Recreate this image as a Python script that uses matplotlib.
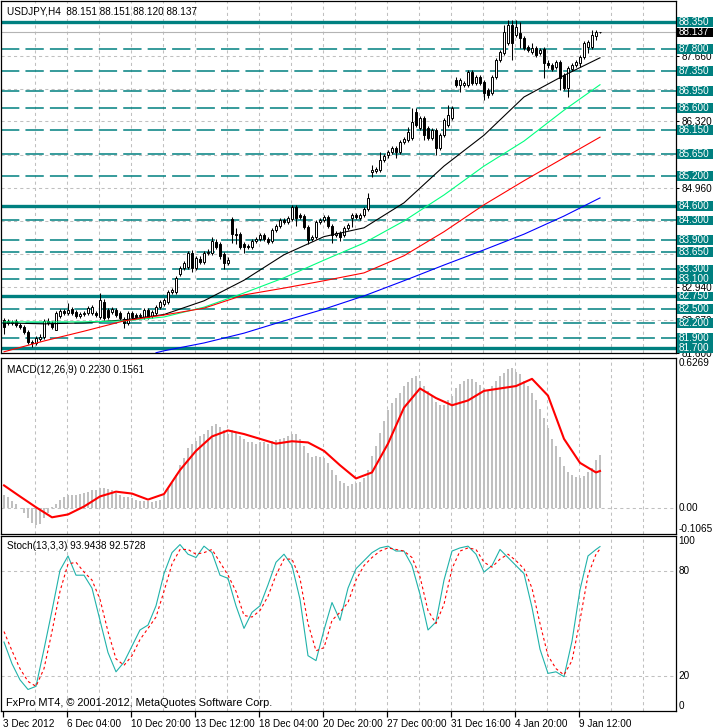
import numpy as np
import matplotlib
matplotlib.use('Agg')
import matplotlib.pyplot as plt
from matplotlib.patches import Rectangle

plt.rcParams['font.family'] = ['Liberation Sans', 'DejaVu Sans']
plt.rcParams['font.size'] = 7.2

# ========================
# USDJPY H4 candles
# ========================
opens = [
    82.27, 82.25, 82.21, 82.25, 82.17, 82.13, 82.02, 81.82, 81.80, 81.88,
    81.92, 82.25, 82.21, 82.06, 82.35, 82.45, 82.41, 82.49, 82.43, 82.35,
    82.39, 82.41, 82.41, 82.41, 82.33, 82.64, 82.47, 82.43, 82.47, 82.41,
    82.29, 82.21, 82.41, 82.37, 82.35, 82.33, 82.47, 82.35, 82.41, 82.53,
    82.60, 82.64, 82.84, 82.84, 83.21, 83.33, 83.35, 83.64, 83.33, 83.51,
    83.45, 83.64, 83.64, 83.86, 83.82, 83.62, 83.43, 84.33, 84.02, 84.02,
    83.82, 83.78, 83.76, 83.88, 83.92, 84.00, 83.92, 83.88, 84.10, 84.18,
    84.31, 84.27, 84.33, 84.57, 84.41, 84.39, 84.16, 83.92, 83.96, 84.27,
    84.31, 84.37, 84.18, 84.00, 84.04, 84.00, 84.14, 84.35, 84.41, 84.35,
    84.41, 84.53, 85.29, 85.31, 85.33, 85.53, 85.63, 85.70, 85.78, 85.70,
    85.90, 85.94, 85.98, 86.51, 86.19, 86.39, 86.19, 85.98, 86.15, 85.78,
    86.04, 86.25, 86.39, 87.17, 87.07, 87.07, 87.07, 87.33, 87.11, 87.23,
    87.13, 86.96, 86.90, 87.23, 87.58, 87.72, 87.92, 88.29, 88.08, 88.13,
    88.02, 87.84, 87.74, 87.82, 87.72, 87.80, 87.51, 87.47, 87.43, 87.54,
    87.27, 87.00, 87.39, 87.47, 87.51, 87.64, 87.84, 87.84, 88.06, 88.151]
highs = [
    82.31, 82.29, 82.27, 82.29, 82.21, 82.17, 82.06, 81.86, 81.94, 81.98,
    82.29, 82.31, 82.25, 82.45, 82.49, 82.49, 82.62, 82.53, 82.47, 82.43,
    82.45, 82.55, 82.57, 82.45, 82.82, 82.70, 82.51, 82.53, 82.51, 82.45,
    82.33, 82.45, 82.45, 82.41, 82.41, 82.51, 82.51, 82.47, 82.57, 82.68,
    82.72, 82.88, 82.92, 83.17, 83.37, 83.47, 83.68, 83.70, 83.57, 83.57,
    83.68, 83.72, 83.96, 83.92, 83.86, 83.66, 83.55, 84.37, 84.14, 84.06,
    83.86, 83.82, 83.92, 83.96, 84.04, 84.04, 83.96, 84.14, 84.22, 84.35,
    84.35, 84.39, 84.61, 84.61, 84.45, 84.43, 84.20, 84.00, 84.31, 84.35,
    84.41, 84.41, 84.22, 84.08, 84.08, 84.18, 84.24, 84.45, 84.45, 84.45,
    84.57, 84.86, 85.43, 85.39, 85.70, 85.65, 85.74, 85.82, 85.82, 85.94,
    86.00, 86.20, 86.60, 86.60, 86.43, 86.43, 86.23, 86.19, 86.19, 86.08,
    86.39, 86.66, 86.64, 87.23, 87.21, 87.15, 87.37, 87.37, 87.27, 87.27,
    87.17, 87.00, 87.27, 87.62, 87.78, 88.29, 88.39, 88.39, 88.39, 88.35,
    88.06, 87.88, 87.92, 87.86, 87.82, 87.84, 87.58, 87.51, 87.58, 87.58,
    87.31, 87.45, 87.51, 87.58, 87.68, 87.96, 87.98, 88.19, 88.19, 88.151]
lows = [
    81.98, 82.17, 82.17, 82.13, 82.08, 81.98, 81.78, 81.72, 81.76, 81.84,
    81.88, 82.17, 82.08, 82.06, 82.31, 82.37, 82.37, 82.37, 82.31, 82.31,
    82.35, 82.37, 82.37, 82.33, 82.29, 82.27, 82.29, 82.39, 82.33, 82.27,
    82.11, 82.17, 82.29, 82.29, 82.31, 82.29, 82.29, 82.31, 82.37, 82.49,
    82.55, 82.60, 82.80, 82.80, 83.17, 83.29, 83.31, 83.25, 83.29, 83.41,
    83.41, 83.60, 83.60, 83.72, 83.51, 83.31, 83.39, 83.84, 83.82, 83.72,
    83.64, 83.72, 83.72, 83.84, 83.88, 83.88, 83.82, 83.84, 84.06, 84.14,
    84.22, 84.22, 84.29, 84.18, 84.33, 84.12, 83.82, 83.88, 83.92, 84.22,
    84.27, 84.14, 83.84, 83.96, 83.88, 83.96, 84.10, 84.16, 84.33, 84.31,
    84.37, 84.49, 85.19, 85.27, 85.29, 85.49, 85.57, 85.66, 85.57, 85.66,
    85.86, 85.90, 85.94, 86.21, 86.15, 85.94, 85.94, 85.94, 85.63, 85.74,
    86.00, 86.21, 86.35, 87.03, 86.92, 87.03, 87.03, 87.07, 87.07, 87.07,
    86.76, 86.80, 86.86, 87.19, 87.54, 87.68, 87.88, 87.58, 88.04, 87.82,
    87.78, 87.74, 87.70, 87.64, 87.68, 87.21, 87.41, 87.35, 87.39, 86.96,
    86.96, 86.82, 87.35, 87.43, 87.43, 87.60, 87.72, 87.80, 87.98, 88.120]
closes = [
    82.13, 82.21, 82.23, 82.17, 82.13, 82.02, 81.82, 81.80, 81.90, 81.92,
    82.25, 82.21, 82.13, 82.41, 82.45, 82.41, 82.47, 82.41, 82.35, 82.39,
    82.41, 82.51, 82.53, 82.37, 82.68, 82.31, 82.33, 82.49, 82.37, 82.31,
    82.21, 82.41, 82.33, 82.33, 82.37, 82.47, 82.33, 82.43, 82.53, 82.64,
    82.68, 82.84, 82.88, 83.13, 83.33, 83.43, 83.64, 83.33, 83.53, 83.45,
    83.64, 83.66, 83.88, 83.76, 83.57, 83.43, 83.49, 84.02, 84.00, 83.76,
    83.76, 83.76, 83.88, 83.92, 84.00, 83.92, 83.86, 84.10, 84.18, 84.31,
    84.27, 84.35, 84.57, 84.35, 84.37, 84.16, 83.90, 83.96, 84.27, 84.31,
    84.37, 84.18, 84.00, 84.04, 83.96, 84.14, 84.20, 84.41, 84.37, 84.41,
    84.53, 84.76, 85.33, 85.35, 85.53, 85.61, 85.70, 85.78, 85.70, 85.90,
    85.96, 86.10, 86.31, 86.25, 86.39, 86.04, 85.98, 86.15, 85.78, 86.04,
    86.35, 86.45, 86.60, 87.07, 87.17, 87.11, 87.33, 87.11, 87.23, 87.11,
    86.90, 86.86, 87.23, 87.58, 87.74, 88.15, 88.29, 87.92, 88.25, 88.02,
    87.82, 87.78, 87.82, 87.68, 87.78, 87.51, 87.47, 87.39, 87.54, 87.21,
    87.00, 87.41, 87.47, 87.54, 87.64, 87.92, 87.94, 88.08, 88.15, 88.137]

# moving averages, read every 10 bars
ma_idx = [0, 10, 20, 30, 40, 50, 60, 70, 80, 90, 100, 110, 120, 130, 140, 149]
ma_black = [82.21, 82.19, 82.21, 82.27, 82.38, 82.66, 83.08, 83.60, 83.97, 84.15,
            84.66, 85.41, 86.04, 86.82, 87.26, 87.62]
ma_green = [82.23, 82.23, 82.23, 82.25, 82.33, 82.53, 82.82, 83.13, 83.49, 83.84,
            84.29, 84.82, 85.41, 85.92, 86.55, 87.07]
ma_red = [81.62, 81.84, 82.04, 82.25, 82.37, 82.51, 82.78, 82.92, 83.07, 83.23,
          83.58, 84.07, 84.62, 85.11, 85.58, 86.00]
blue_idx = [38, 40, 50, 60, 70, 80, 90, 100, 110, 120, 130, 140, 149]
ma_blue = [81.60, 81.64, 81.80, 82.00, 82.25, 82.49, 82.76, 83.07, 83.39, 83.70,
           84.02, 84.39, 84.76]

# horizontal levels (trend lines drawn by the user)
solid_levels = [88.35, 84.60, 82.75, 81.70]
dashed_levels = [87.80, 87.35, 86.95, 86.60, 86.15, 85.65, 85.20, 84.30, 83.90,
                 83.65, 83.30, 83.10, 82.50, 82.20, 81.90]
bid = 88.137
grid_levels = [87.66, 86.99, 86.32, 85.64, 84.96, 84.29, 83.61, 82.94, 82.27, 81.60]
# labels hidden behind the level boxes are left empty
grid_labels = ['87.660', '', '86.320', '', '84.960', '', '', '82.940', '82.270', '81.600']

# MACD(12,26,9)
macd_hist = [
    0.054, 0.046, 0.033, 0.020, 0.000, -0.020, -0.040, -0.060, -0.070, -0.065,
    -0.040, -0.017, 0.005, 0.020, 0.037, 0.046, 0.054, 0.058, 0.058, 0.062,
    0.066, 0.070, 0.075, 0.075, 0.087, 0.087, 0.080, 0.075, 0.066, 0.058,
    0.046, 0.046, 0.042, 0.037, 0.033, 0.030, 0.030, 0.025, 0.030, 0.037,
    0.058, 0.083, 0.108, 0.140, 0.180, 0.210, 0.250, 0.270, 0.280, 0.300,
    0.310, 0.325, 0.345, 0.350, 0.340, 0.325, 0.310, 0.325, 0.320, 0.300,
    0.290, 0.275, 0.275, 0.270, 0.275, 0.275, 0.270, 0.280, 0.285, 0.290,
    0.295, 0.300, 0.310, 0.310, 0.290, 0.260, 0.230, 0.215, 0.220, 0.215,
    0.210, 0.190, 0.160, 0.140, 0.115, 0.105, 0.095, 0.100, 0.105, 0.110,
    0.125, 0.160, 0.220, 0.260, 0.315, 0.365, 0.410, 0.440, 0.460, 0.480,
    0.510, 0.525, 0.545, 0.550, 0.530, 0.510, 0.490, 0.470, 0.445, 0.430,
    0.430, 0.450, 0.470, 0.500, 0.520, 0.530, 0.540, 0.540, 0.525, 0.515,
    0.500, 0.490, 0.510, 0.530, 0.550, 0.565, 0.580, 0.585, 0.570, 0.560,
    0.530, 0.510, 0.480, 0.450, 0.415, 0.375, 0.335, 0.290, 0.260, 0.215,
    0.175, 0.150, 0.140, 0.130, 0.125, 0.135, 0.150, 0.170, 0.200, 0.223]
macd_sig_idx = list(range(0, 149, 4)) + [149]
macd_sig = [0.096, 0.050, 0.005, -0.037, -0.025, 0.008, 0.050, 0.070, 0.062, 0.037,
            0.060, 0.160, 0.240, 0.300, 0.325, 0.310, 0.290, 0.270, 0.280, 0.275,
            0.240, 0.180, 0.125, 0.150, 0.270, 0.420, 0.500, 0.460, 0.430, 0.450,
            0.490, 0.500, 0.510, 0.540, 0.470, 0.290, 0.190, 0.150, 0.156]

# Stoch(13,3,3), read every 2 bars
sto_idx = list(range(0, 149, 2)) + [149]
sto_k = [39.4, 27.0, 17.8, 12.3, 14.1, 35.3, 57.4, 80.4, 88.6, 77.6,
         77.6, 70.2, 51.8, 33.4, 22.4, 27.9, 37.1, 46.3, 49.1, 60.1,
         78.5, 90.5, 95.1, 89.6, 87.7, 94.2, 90.5, 77.6, 75.8, 60.1,
         47.2, 56.4, 60.1, 72.1, 85.0, 89.6, 83.1, 63.8, 31.6, 28.8,
         46.3, 62.0, 51.8, 70.2, 81.3, 85.9, 90.5, 93.2, 94.2, 91.4,
         91.4, 83.1, 66.6, 46.3, 50.9, 74.8, 91.4, 93.2, 94.2, 89.6,
         79.4, 83.1, 92.3, 87.7, 83.1, 78.5, 59.2, 35.3, 21.5, 22.4,
         19.6, 39.9, 69.3, 88.6, 92.3, 93.94]
sto_d = [45.4, 34.4, 24.2, 16.9, 14.1, 24.2, 45.4, 68.4, 84.0, 85.0,
         79.4, 74.8, 63.8, 45.4, 29.8, 26.1, 31.6, 40.8, 47.2, 53.7,
         68.4, 84.0, 92.3, 92.3, 89.6, 90.5, 92.3, 85.0, 77.6, 68.4,
         54.6, 53.7, 57.4, 65.6, 77.6, 86.8, 86.8, 75.8, 50.0, 34.4,
         36.2, 51.8, 56.4, 62.0, 74.8, 83.1, 87.7, 91.4, 93.2, 92.3,
         91.4, 87.7, 76.7, 57.4, 50.0, 61.0, 81.3, 91.4, 93.2, 92.3,
         85.0, 82.2, 86.8, 89.6, 85.9, 81.3, 70.2, 50.0, 31.6, 24.2,
         20.6, 28.8, 51.8, 77.6, 89.6, 92.57]

# time axis labels
time_labels = ['3 Dec 2012', '6 Dec 04:00', '10 Dec 20:00', '13 Dec 12:00',
               '18 Dec 04:00', '20 Dec 20:00', '27 Dec 00:00', '31 Dec 16:00',
               '4 Jan 20:00', '9 Jan 12:00']

# ========================
# layout (pixel boxes of the MT4 window)
# ========================
W, H = 713, 728
fig = plt.figure(figsize=(W / 100, H / 100), dpi=100)


def box(l, t, r, b):
    return [l / W, 1 - b / H, (r - l) / W, (b - t) / H]


ax = fig.add_axes(box(1, 1, 676, 353))
ax_macd = fig.add_axes(box(1, 358, 676, 534))
ax_sto = fig.add_axes(box(1, 536, 676, 711))

TEAL = '#008080'
GRID = '#c0c0c0'
x = np.arange(len(closes))
X0, X1 = -0.75, 168
vgrid = [-0.25 + 8 * k for k in range(1, 21)]

for a in (ax, ax_macd, ax_sto):
    a.set_xlim(X0, X1)
    for g in vgrid:
        a.axvline(g, color=GRID, lw=0.75, ls=(0, (3, 3)), zorder=0)
    for s in a.spines.values():
        s.set_linewidth(0.9)
    a.yaxis.tick_right()
    a.tick_params(axis='y', length=2.5, width=0.75, pad=1.5, labelsize=7.2)
    a.set_xticks([])

# ---- main price panel
ax.set_ylim(81.595, 88.779)
ax.set_yticks(grid_levels)
ax.set_yticklabels(grid_labels)
for g in grid_levels:
    ax.axhline(g, color=GRID, lw=0.75, ls=(0, (3, 3)), zorder=0)

for lv in solid_levels:
    ax.axhline(lv, color=TEAL, lw=2.4, zorder=2)
for lv in dashed_levels:
    ax.axhline(lv, color=TEAL, lw=1.1, ls=(0, (12, 4)), zorder=2)
ax.axhline(bid, color='#b4b4b4', lw=0.8, zorder=2)

o = np.array(opens)
c = np.array(closes)
up = c >= o
ax.vlines(x, lows, highs, color='black', lw=0.75, zorder=3)
ax.bar(x, np.maximum(np.abs(c - o), 0.005), bottom=np.minimum(o, c), width=0.55,
       color=np.where(up, 'white', 'black'), edgecolor='black', linewidth=0.7, zorder=4)

ax.plot(ma_idx, ma_black, color='black', lw=0.8, zorder=5)
ax.plot(ma_idx, ma_green, color='#00ff7f', lw=0.8, zorder=5)
ax.plot(ma_idx, ma_red, color='red', lw=0.8, zorder=5)
ax.plot(blue_idx, ma_blue, color='blue', lw=0.8, zorder=5)

# price labels on the right
yx = ax.get_yaxis_transform()
hb = 4.9 / 49  # half box height in price units
for lv in solid_levels + dashed_levels:
    ax.add_patch(Rectangle((1.0015, lv - hb), 0.054, 2 * hb, transform=yx,
                           facecolor=TEAL, edgecolor='none', clip_on=False, zorder=10))
    ax.text(1.0045, lv, f'{lv:.3f}', transform=yx, color='white', va='center',
            ha='left', fontsize=7.2, clip_on=False, zorder=11)
ax.add_patch(Rectangle((1.0015, bid - hb), 0.054, 2 * hb, transform=yx,
                       facecolor='black', edgecolor='none', clip_on=False, zorder=12))
ax.text(1.0045, bid, f'{bid:.3f}', transform=yx, color='white', va='center',
        ha='left', fontsize=7.2, clip_on=False, zorder=13)

ax.text(6 / 675, 1 - 10 / 352, 'USDJPY,H4  88.151 88.151 88.120 88.137',
        transform=ax.transAxes, va='center', ha='left', fontsize=7.2, zorder=14)

# ---- MACD panel
ax_macd.set_ylim(-0.1065, 0.6269)
ax_macd.set_yticks([])
ax_macd.axhline(0, color=GRID, lw=0.75, ls=(0, (3, 3)), zorder=0)
ax_macd.bar(x, macd_hist, width=0.7, color='#c0c0c0', zorder=2)
ax_macd.plot(macd_sig_idx, macd_sig, color='red', lw=1.5, zorder=3)
myx = ax_macd.get_yaxis_transform()
ax_macd.text(1.004, 0.6269, '0.6269', transform=myx, va='top', ha='left', fontsize=7.2)
ax_macd.text(1.004, 0.0, '0.00', transform=myx, va='center', ha='left', fontsize=7.2)
ax_macd.text(1.004, -0.1065, '-0.1065', transform=myx, va='bottom', ha='left', fontsize=7.2)
ax_macd.text(6 / 675, 1 - 12 / 176, 'MACD(12,26,9) 0.2230 0.1561',
             transform=ax_macd.transAxes, va='center', ha='left', fontsize=7.2)

# ---- Stochastic panel
ax_sto.set_ylim(0, 100)
ax_sto.set_yticks([])
for lv in (20, 80):
    ax_sto.axhline(lv, color=GRID, lw=0.75, ls=(0, (3, 3)), zorder=0)
ax_sto.plot(sto_idx, sto_k, color='#20b2aa', lw=0.8, zorder=3)
ax_sto.plot(sto_idx, sto_d, color='red', lw=0.8, ls=(0, (2.5, 2.5)), zorder=3)
syx = ax_sto.get_yaxis_transform()
ax_sto.text(1.004, 100, '100', transform=syx, va='top', ha='left', fontsize=7.2)
ax_sto.text(1.004, 80, '80', transform=syx, va='center', ha='left', fontsize=7.2)
ax_sto.text(1.004, 20, '20', transform=syx, va='center', ha='left', fontsize=7.2)
ax_sto.text(1.004, 0, '0', transform=syx, va='bottom', ha='left', fontsize=7.2)
ax_sto.text(6 / 675, 1 - 10 / 175, 'Stoch(13,3,3) 93.9438 92.5728',
            transform=ax_sto.transAxes, va='center', ha='left', fontsize=7.2)
ax_sto.text(5 / 675, 8 / 175, 'FxPro MT4, \u00a9 2001-2012, MetaQuotes Software Corp.',
            transform=ax_sto.transAxes, va='center', ha='left', fontsize=7.9, zorder=6)

ax_sto.set_xticks([-0.25 + 16 * k for k in range(len(time_labels))])
ax_sto.set_xticklabels(time_labels, ha='left', fontsize=7.2)
ax_sto.tick_params(axis='x', length=4, width=0.9, pad=1.5)

fig.savefig('out.png', dpi=100, facecolor='white')
